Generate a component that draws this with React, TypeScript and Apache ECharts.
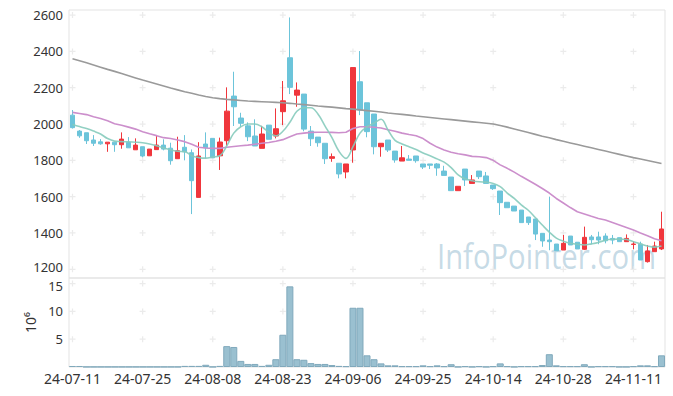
import { useEffect, useRef } from 'react';
import * as echarts from 'echarts';

const dates = [
  '24-07-11','24-07-12','24-07-15','24-07-16','24-07-17','24-07-18','24-07-19','24-07-22','24-07-23','24-07-24',
  '24-07-25','24-07-26','24-07-29','24-07-30','24-07-31','24-08-01','24-08-02','24-08-05','24-08-06','24-08-07',
  '24-08-08','24-08-09','24-08-12','24-08-13','24-08-14','24-08-16','24-08-19','24-08-20','24-08-21','24-08-22',
  '24-08-23','24-08-26','24-08-27','24-08-28','24-08-29','24-08-30','24-09-02','24-09-03','24-09-04','24-09-05',
  '24-09-06','24-09-09','24-09-10','24-09-11','24-09-12','24-09-13','24-09-19','24-09-20','24-09-23','24-09-24',
  '24-09-25','24-09-26','24-09-27','24-09-30','24-10-02','24-10-04','24-10-07','24-10-08','24-10-10','24-10-11',
  '24-10-14','24-10-15','24-10-16','24-10-17','24-10-18','24-10-21','24-10-22','24-10-23','24-10-24','24-10-25',
  '24-10-28','24-10-29','24-10-30','24-10-31','24-11-01','24-11-04','24-11-05','24-11-06','24-11-07','24-11-08',
  '24-11-11','24-11-12','24-11-13','24-11-14','24-11-15',
];

// [open, close, low, high]
const ohlc = [
  [2049,1980,1975,2077],[1961,1935,1924,1967],[1952,1908,1890,1952],[1912,1894,1879,1939],[1902,1891,1886,1917],
  [1891,1900,1847,1900],[1900,1886,1847,1900],[1886,1917,1864,1954],[1899,1869,1869,1928],[1858,1884,1858,1921],
  [1875,1824,1817,1875],[1825,1862,1825,1862],[1859,1884,1859,1939],[1884,1862,1855,1916],[1867,1798,1776,1897],
  [1809,1853,1809,1930],[1872,1847,1800,1939],[1842,1688,1504,1860],[1596,1824,1596,1900],[1890,1869,1811,1954],
  [1921,1814,1814,1921],[1825,1901,1747,1925],[1908,2071,1880,2202],[2154,2095,1989,2288],[2033,2004,1985,2062],
  [1990,1930,1906,2009],[1934,1879,1879,2026],[1866,1945,1866,1990],[1994,1916,1916,1994],[1934,1974,1921,2086],
  [2068,2128,1994,2237],[2365,2202,2165,2587],[2159,2187,2095,2229],[2165,1972,1960,2165],[1961,1919,1879,1989],
  [1928,1897,1875,1928],[1894,1809,1780,1894],[1811,1820,1792,1838],[1784,1725,1701,1784],[1736,1780,1701,1780],
  [1857,2311,1787,2311],[2233,2077,2049,2402],[2117,1958,1927,2117],[2055,1875,1833,2055],[1875,1894,1820,1894],
  [1912,1857,1846,1912],[1851,1802,1787,1851],[1796,1814,1796,1879],[1807,1800,1800,1829],[1824,1798,1787,1824],
  [1780,1763,1752,1780],[1780,1773,1752,1780],[1780,1758,1715,1785],[1741,1717,1717,1770],[1708,1633,1633,1708],
  [1633,1657,1633,1657],[1752,1692,1659,1752],[1673,1692,1673,1719],[1741,1710,1697,1741],[1714,1673,1673,1736],
  [1664,1644,1637,1664],[1631,1567,1499,1631],[1569,1539,1539,1569],[1548,1521,1521,1548],[1526,1457,1457,1526],
  [1488,1457,1444,1488],[1477,1394,1361,1477],[1398,1356,1324,1398],[1361,1352,1305,1600],[1339,1302,1302,1339],
  [1306,1343,1306,1389],[1383,1334,1334,1383],[1349,1312,1312,1349],[1310,1376,1306,1435],[1378,1363,1338,1389],
  [1378,1361,1338,1407],[1383,1357,1343,1398],[1370,1361,1338,1389],[1374,1352,1352,1374],[1352,1370,1352,1392],
  [1337,1339,1310,1354],[1338,1251,1251,1352],[1242,1301,1237,1334],[1297,1328,1297,1352],[1312,1422,1306,1517],
];

const ma5 = [
  1998,1986,1975,1961,1945,1920,1906,1903,1902,1900,
  1897,1890,1880,1868,1857,1850,1848,1825,1815,1812,
  1818,1825,1880,1950,1985,2000,2000,1985,1955,1935,
  1960,2010,2070,2090,2090,2055,1990,1925,1850,1811,
  1875,1950,1985,2005,2026,1967,1910,1890,1875,1860,
  1840,1825,1808,1790,1760,1720,1698,1688,1682,1680,
  1673,1655,1620,1590,1555,1525,1485,1444,1405,1372,
  1355,1343,1338,1334,1340,1348,1360,1365,1366,1364,
  1352,1340,1328,1322,1328,
];

const ma20 = [
  2064,2058,2052,2040,2030,2018,2002,1993,1983,1972,
  1958,1946,1936,1925,1920,1912,1903,1888,1872,1868,
  1866,1866,1872,1876,1880,1884,1889,1894,1898,1905,
  1914,1930,1945,1950,1954,1955,1955,1954,1952,1955,
  1975,1985,1985,1982,1978,1968,1960,1950,1942,1935,
  1920,1894,1873,1857,1845,1836,1830,1822,1820,1815,
  1800,1775,1756,1735,1712,1690,1668,1645,1620,1590,
  1565,1540,1517,1505,1492,1480,1471,1458,1444,1430,
  1416,1400,1385,1368,1357,
];

const ma120 = [
  2360,2349,2337,2325,2313,2301,2290,2278,2266,2254,
  2242,2231,2220,2209,2198,2188,2178,2169,2160,2152,
  2145,2140,2136,2133,2130,2127,2125,2123,2121,2119,
  2117,2114,2110,2107,2103,2099,2096,2093,2089,2085,
  2082,2078,2074,2070,2066,2061,2057,2053,2049,2044,
  2040,2036,2032,2028,2024,2020,2016,2012,2008,2004,
  2000,1992,1983,1973,1963,1953,1943,1933,1924,1914,
  1905,1896,1887,1878,1869,1860,1851,1842,1833,1824,
  1815,1807,1799,1791,1783,
];

// volume in millions
const volume = [
  0.18,0.18,0.03,0.03,0.03,0.03,0.03,0.03,0.03,0.03,
  0.03,0.03,0.03,0.03,0.03,0.03,0.2,0.2,0.2,0.4,
  0.03,0.2,3.75,3.6,1.1,0.55,0.55,0.2,0.4,1.4,
  5.8,14.5,1.4,1.3,0.7,0.55,0.55,0.35,0.2,0.15,
  10.65,10.65,2.1,1.4,0.65,0.3,0.3,0.15,0.15,0.15,
  0.3,0.15,0.3,0.15,0.5,0.03,0.15,0.03,0.15,0.03,
  0.15,0.65,0.15,0.03,0.15,0.15,0.15,0.35,2.3,0.3,
  0.15,0.15,0.15,0.5,0.03,0.15,0.15,0.15,0.03,0.03,
  0.15,0.3,0.3,0.15,2.1,
];

const priceTicks = [1200, 1400, 1600, 1800, 2000, 2200, 2400, 2600];
const volumeTicks = [5, 10, 15];
const labelEvery = 10;

const FONT = 'Noto Sans';
const TEXT = '#333';
const plusSymbol = 'path://M4,0h2v4h4v2h-4v4h-2v-4h-4v-2h4z';

function crossPoints(ticks: number[]) {
  const pts: number[][] = [];
  for (let i = 0; i < dates.length; i += labelEvery) {
    for (const t of ticks) pts.push([i, t]);
  }
  return pts;
}

const lowestPrice = priceTicks[0];
const highestVolume = volumeTicks[volumeTicks.length - 1];
const priceLabel = (v: number) => (v === lowestPrice ? `{up|${v}}` : String(v));
const volumeLabel = (v: number) => (v === highestVolume ? `{down|${v}}` : String(v));

export default function App() {
  const ref = useRef<HTMLDivElement>(null);
  useEffect(() => {
    const chart = echarts.init(ref.current!, null, { renderer: 'svg' });
    const labelBase = { color: TEXT, fontSize: 13, lineHeight: 12, fontFamily: FONT, margin: 6 };
    const option: any = {
      animation: false,
      backgroundColor: '#fff',
      grid: [
        { left: 69, right: 8, top: 10, height: 268, show: true, borderColor: '#e3e3e3', borderWidth: 1 },
        { left: 69, right: 8, top: 278, height: 89, show: true, borderColor: '#e3e3e3', borderWidth: 1 },
      ],
      xAxis: [
        {
          type: 'category', gridIndex: 0, data: dates, boundaryGap: true,
          axisLine: { show: false }, axisTick: { show: false }, axisLabel: { show: false }, splitLine: { show: false },
        },
        {
          type: 'category', gridIndex: 1, data: dates, boundaryGap: true,
          axisLine: { show: false }, axisTick: { show: false }, splitLine: { show: false },
          axisLabel: { interval: labelEvery - 1, color: TEXT, fontSize: 14, fontFamily: FONT, margin: 4 },
        },
      ],
      yAxis: [
        {
          type: 'value', gridIndex: 0, min: 1152, max: 2628,
          axisLine: { show: false }, axisTick: { show: false }, splitLine: { show: false },
          axisLabel: {
            ...labelBase, customValues: priceTicks, formatter: priceLabel,
            rich: { up: { color: TEXT, fontSize: 13, fontFamily: FONT, lineHeight: 12, padding: [0, 0, 4, 0] } },
          },
        },
        {
          type: 'value', gridIndex: 1, min: 0, max: 16,
          axisLine: { show: false }, axisTick: { show: false }, splitLine: { show: false },
          axisLabel: {
            ...labelBase, customValues: volumeTicks, formatter: volumeLabel,
            rich: { down: { color: TEXT, fontSize: 13, fontFamily: FONT, lineHeight: 12, padding: [4, 0, 0, 0] } },
          },
          name: '10⁶', nameLocation: 'middle', nameRotate: 90, nameGap: 30,
          nameTextStyle: { color: TEXT, fontSize: 14, fontFamily: FONT },
        },
      ],
      graphic: [
        {
          type: 'text', x: 437, y: 256, scaleX: 0.86, silent: true, z: 0,
          style: {
            text: 'InfoPointer.com', fontSize: 34, fontFamily: 'Open Sans',
            fill: 'rgba(150,188,208,0.55)', textVerticalAlign: 'middle', textAlign: 'left',
          },
        },
      ],
      series: [
        {
          type: 'scatter', xAxisIndex: 0, yAxisIndex: 0, data: crossPoints(priceTicks),
          symbol: plusSymbol, symbolSize: 6, itemStyle: { color: '#e6e6e6' }, silent: true, z: 1,
        },
        {
          type: 'scatter', xAxisIndex: 1, yAxisIndex: 1, data: crossPoints(volumeTicks),
          symbol: plusSymbol, symbolSize: 6, itemStyle: { color: '#e6e6e6' }, silent: true, z: 1,
        },
        {
          type: 'candlestick', xAxisIndex: 0, yAxisIndex: 0, data: ohlc, barWidth: 5, z: 3,
          itemStyle: { color: '#f0363c', color0: '#6cc4da', borderColor: '#f0363c', borderColor0: '#6cc4da', borderWidth: 1 },
        },
        {
          type: 'line', xAxisIndex: 0, yAxisIndex: 0, data: ma120, showSymbol: false, z: 4,
          lineStyle: { color: '#9a9a9a', width: 1.6 },
        },
        {
          type: 'line', xAxisIndex: 0, yAxisIndex: 0, data: ma20, showSymbol: false, z: 4,
          lineStyle: { color: '#cc8fcc', width: 1.6 },
        },
        {
          type: 'line', xAxisIndex: 0, yAxisIndex: 0, data: ma5, showSymbol: false, smooth: 0.4, z: 4,
          lineStyle: { color: '#86cbbd', width: 1.6, opacity: 0.9 },
        },
        {
          type: 'bar', xAxisIndex: 1, yAxisIndex: 1, data: volume, barCategoryGap: '0%', z: 3,
          itemStyle: { color: '#9ac0d0', borderColor: '#80a9bc', borderWidth: 1 },
        },
      ],
    };
    chart.setOption(option);
    return () => chart.dispose();
  }, []);
  return <div ref={ref} style={{ position: 'fixed', left: 0, top: 0, width: 673, height: 396 }} />;
}
